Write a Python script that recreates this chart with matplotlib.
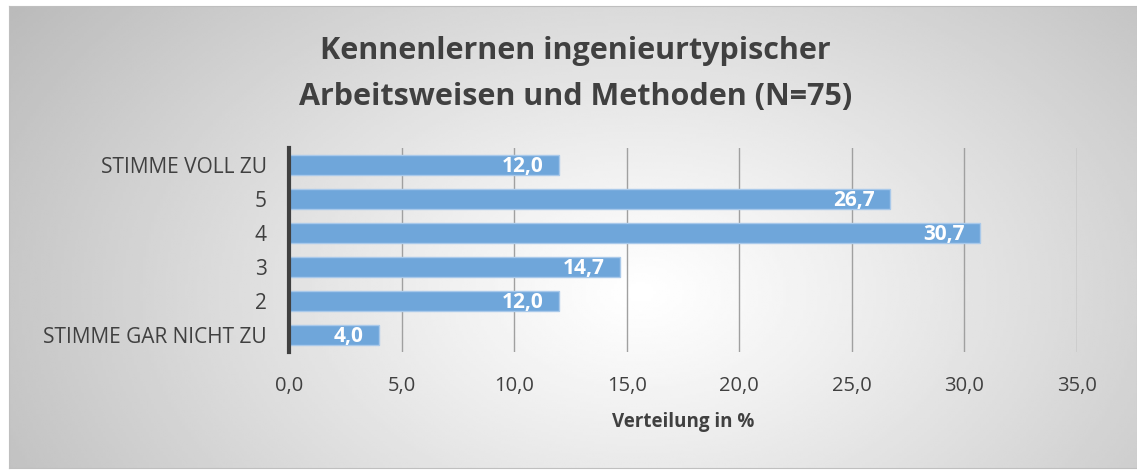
import numpy as np
import matplotlib.pyplot as plt

categories = ["STIMME GAR NICHT ZU", "2", "3", "4", "5", "STIMME VOLL ZU"]
values = [4.0, 12.0, 14.7, 30.7, 26.7, 12.0]
xticks = [0, 5, 10, 15, 20, 25, 30, 35]

plt.rcParams['font.family'] = ['Open Sans', 'DejaVu Sans']
text_col = '#404040'

fig = plt.figure(figsize=(11.37, 4.71), dpi=100)

# radial gradient background panel
W, H = 1137, 471
bg = fig.add_axes([9 / W, 3 / H, 1 - 9 / W, 1 - 9 / H], zorder=0)
yy, xx = np.mgrid[0:200, 0:400]
cx, cy = 0.56, 0.62
d = np.sqrt(((xx / 399 - cx) * 1.6) ** 2 + ((yy / 199) - cy) ** 2)
g = np.clip(1 - 0.27 * (d / d.max()) ** 1.1, 0, 1)
bg.imshow(g, cmap='gray', vmin=0, vmax=1, aspect='auto', interpolation='bilinear')
bg.set_xticks([])
bg.set_yticks([])
for s in bg.spines.values():
    s.set_color('#bfbfbf')

ax = fig.add_axes([289 / W, 1 - 352 / H, (1077 - 289) / W, (352 - 148) / H], zorder=1)
ax.patch.set_alpha(0)
y = np.arange(len(categories))
ax.barh(y, values, height=0.58, color='#6fa6da', edgecolor='#a9c9ea', linewidth=1, zorder=2)
for yi, v in zip(y, values):
    ax.annotate(f"{v:.1f}".replace('.', ','), (v, yi - 0.03), xytext=(-11, 0),
                textcoords='offset points', ha='right', va='center',
                color='white', fontsize=15, fontweight='bold', zorder=3)

ax.set_xlim(0, 35)
ax.set_ylim(-0.5, len(categories) - 0.5)
ax.set_xticks(xticks)
ax.set_xticklabels([f"{t:.1f}".replace('.', ',') for t in xticks], fontsize=14.5, color=text_col)
ax.set_yticks(y)
ax.set_yticklabels(categories, fontsize=15, color=text_col)
ax.tick_params(axis='y', length=0, pad=16)
ax.tick_params(axis='x', length=0, pad=17)
ax.xaxis.grid(True, color='#a0a0a0', linewidth=1, zorder=0)
ax.set_axisbelow(True)
for s in ['top', 'right', 'bottom']:
    ax.spines[s].set_visible(False)
ax.spines['left'].set_color('#404040')
ax.spines['left'].set_linewidth(3)
ax.set_xlabel('Verteilung in %', fontsize=13.5, fontweight='bold', color=text_col, labelpad=12)

fig.text(0.506, 1 - 74 / H, "Kennenlernen ingenieurtypischer\nArbeitsweisen und Methoden (N=75)",
         ha='center', va='center', fontsize=22, fontweight='bold', color=text_col, linespacing=1.68)

fig.savefig('out.png', dpi=100)
